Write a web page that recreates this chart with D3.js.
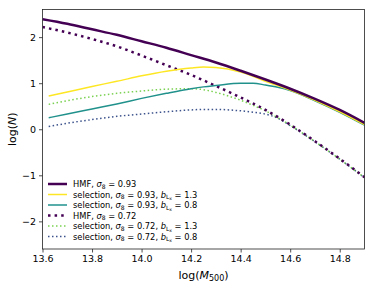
<!DOCTYPE html>
<html lang="en">
<head>
<meta charset="UTF-8">
<title>HMF and selection</title>
<script src="https://cdn.jsdelivr.net/npm/d3@7"></script>
<style>
  body { margin: 0; background: #fff; }
  text { font-family: "DejaVu Sans", sans-serif; fill: #000; }
</style>
</head>
<body>
<svg id="chart" width="374" height="287"></svg>
<script>
// log(M500) sample points
const xFull = [13.6, 13.7, 13.8, 13.9, 14.0, 14.1, 14.2, 14.3, 14.4, 14.5, 14.6, 14.7, 14.8, 14.9];
const xSel = [13.625, 13.7, 13.8, 13.9, 14.0, 14.1, 14.2, 14.25, 14.3, 14.4, 14.45, 14.5, 14.55, 14.6, 14.7, 14.8, 14.9];

// log(N) values
const hmf93 = [2.39, 2.29, 2.17, 2.05, 1.91, 1.77, 1.61, 1.45, 1.27, 1.08, 0.88, 0.66, 0.42, 0.14];
const hmf72 = [2.22, 2.10, 1.96, 1.80, 1.60, 1.39, 1.18, 0.94, 0.69, 0.42, 0.10, -0.26, -0.64, -1.04];
const sel93hi = [0.72, 0.81, 0.93, 1.04, 1.16, 1.26, 1.33, 1.35, 1.34, 1.24, 1.15, 1.04, 0.95, 0.85, 0.63, 0.38, 0.10];
const sel93lo = [0.25, 0.33, 0.44, 0.55, 0.67, 0.78, 0.88, 0.92, 0.95, 1.00, 1.00, 0.96, 0.91, 0.84, 0.62, 0.37, 0.09];
const sel72hi = [0.54, 0.62, 0.71, 0.78, 0.83, 0.87, 0.88, 0.86, 0.80, 0.63, 0.52, 0.40, 0.25, 0.09, -0.27, -0.65, -1.05];
const sel72lo = [0.06, 0.13, 0.21, 0.28, 0.33, 0.38, 0.42, 0.43, 0.43, 0.40, 0.37, 0.33, 0.24, 0.08, -0.27, -0.65, -1.05];

const xTicks = [13.6, 13.8, 14.0, 14.2, 14.4, 14.6, 14.8];
const yTicks = [-2, -1, 0, 1, 2];

const series = [
  { xs: xFull, ys: hmf93, color: "#440154", width: 2.5, dash: null, sigma: "0.93", b: null },
  { xs: xSel, ys: sel93hi, color: "#fde725", width: 1.5, dash: null, sigma: "0.93", b: "1.3" },
  { xs: xSel, ys: sel93lo, color: "#21918c", width: 1.5, dash: null, sigma: "0.93", b: "0.8" },
  { xs: xFull, ys: hmf72, color: "#440154", width: 2.5, dash: "2.5,4.1", sigma: "0.72", b: null },
  { xs: xSel, ys: sel72hi, color: "#7ad151", width: 1.5, dash: "1.5,2.5", sigma: "0.72", b: "1.3" },
  { xs: xSel, ys: sel72lo, color: "#3b528b", width: 1.5, dash: "1.5,2.5", sigma: "0.72", b: "0.8" }
];

const svg = d3.select("#chart");
const mLeft = 42.5, mRight = 364.5, mTop = 9.5, mBottom = 249;

const x = d3.scaleLinear().domain([13.6, 14.9]).range([mLeft, mRight]);
const y = d3.scaleLinear().domain([-2.6, 2.6]).range([mBottom, mTop]);

const defs = svg.append("defs");
defs.append("clipPath").attr("id", "clip")
  .append("rect").attr("x", mLeft).attr("y", mTop)
  .attr("width", mRight - mLeft).attr("height", mBottom - mTop);

const line = d3.line()
  .x(d => x(d[0]))
  .y(d => y(d[1]))
  .curve(d3.curveMonotoneX);

const plot = svg.append("g").attr("clip-path", "url(#clip)");

// draw in reverse so the HMF lines end up on top like the original
series.slice().reverse().forEach(s => {
  plot.append("path")
    .datum(s.xs.map((v, i) => [v, s.ys[i]]))
    .attr("d", line)
    .attr("fill", "none")
    .attr("stroke", s.color)
    .attr("stroke-width", s.width)
    .attr("stroke-dasharray", s.dash);
});

// axes
const xAxis = svg.append("g")
  .attr("transform", `translate(0,${mBottom})`)
  .call(d3.axisBottom(x).tickValues(xTicks).tickFormat(d3.format(".1f")).tickSize(3.5).tickPadding(3));
const yAxis = svg.append("g")
  .attr("transform", `translate(${mLeft},0)`)
  .call(d3.axisLeft(y).tickValues(yTicks).tickFormat(d => d < 0 ? "\u2212" + Math.abs(d) : d).tickSize(3.5).tickPadding(3));

[xAxis, yAxis].forEach(a => {
  a.select(".domain").remove();
  a.selectAll("line").attr("stroke", "#222").attr("stroke-width", 0.8);
  a.selectAll("text").attr("font-size", 9.5).attr("font-family", "DejaVu Sans").attr("fill", "#000");
});

svg.append("rect")
  .attr("x", mLeft).attr("y", mTop)
  .attr("width", mRight - mLeft).attr("height", mBottom - mTop)
  .attr("fill", "none").attr("stroke", "#222").attr("stroke-width", 0.8);

// axis titles
const xt = svg.append("text")
  .attr("x", (mLeft + mRight) / 2).attr("y", 279)
  .attr("text-anchor", "middle").attr("font-size", 11);
xt.append("tspan").text("log(");
xt.append("tspan").attr("font-style", "italic").text("M");
xt.append("tspan").attr("font-size", 8).attr("dy", 2).text("500");
xt.append("tspan").attr("dy", -2).text(")");

const yt = svg.append("text")
  .attr("transform", `translate(16,${(mTop + mBottom) / 2}) rotate(-90)`)
  .attr("text-anchor", "middle").attr("font-size", 11);
yt.append("tspan").text("log(");
yt.append("tspan").attr("font-style", "italic").text("N");
yt.append("tspan").text(")");

// legend
const legend = svg.append("g");
series.forEach((s, i) => {
  const ly = 184 + i * 10.5;
  legend.append("line")
    .attr("x1", 48).attr("x2", 67).attr("y1", ly).attr("y2", ly)
    .attr("stroke", s.color).attr("stroke-width", s.width)
    .attr("stroke-dasharray", s.dash);
  const t = legend.append("text")
    .attr("x", 73).attr("y", ly + 3).attr("font-size", 8.3);
  t.append("tspan").text(s.b ? "selection, " : "HMF, ");
  t.append("tspan").attr("font-style", "italic").text("\u03c3");
  t.append("tspan").attr("font-size", 6).attr("dy", 1.5).text("8");
  t.append("tspan").attr("dy", -1.5).text(" = " + s.sigma);
  if (s.b) {
    t.append("tspan").text(", ");
    t.append("tspan").attr("font-style", "italic").text("b");
    t.append("tspan").attr("font-size", 6).attr("dy", 1.5).text("L");
    t.append("tspan").attr("font-size", 4.5).attr("dy", 1).text("x");
    t.append("tspan").attr("dy", -2.5).text(" = " + s.b);
  }
});
</script>
</body>
</html>
